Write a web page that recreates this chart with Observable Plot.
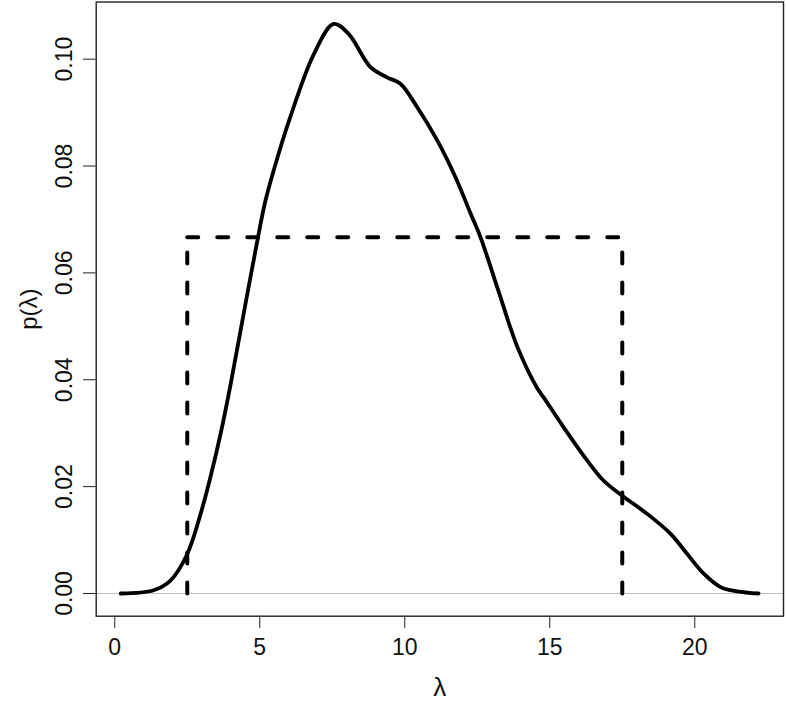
<!DOCTYPE html>
<html>
<head>
<meta charset="utf-8">
<script src="https://cdn.jsdelivr.net/npm/d3@7"></script>
<script src="https://cdn.jsdelivr.net/npm/@observablehq/plot@0.6"></script>
<style>
  html, body { margin: 0; padding: 0; background: #fff; }
  svg { display: block; }
</style>
</head>
<body>
<div id="chart"></div>
<script>
// density curve p(lambda)
const lambda = [0.2, 1.34, 1.92, 2.5, 2.96, 3.3, 3.65, 3.99, 4.45, 4.94, 5.2, 5.66, 6.06, 6.87, 7.55, 8.07, 8.82, 9.39, 9.85, 10.43, 11.12, 11.75, 12.27, 12.61, 13.19, 13.88, 14.57, 14.79, 15.48, 16.29, 16.86, 17.5, 18.36, 19.16, 19.74, 20.31, 20.89, 21.46, 22.2];
const density = [0, 0.0006, 0.0024, 0.0074, 0.0149, 0.0218, 0.0299, 0.0390, 0.0525, 0.0667, 0.0736, 0.0825, 0.0893, 0.1010, 0.1066, 0.1047, 0.0985, 0.0966, 0.0954, 0.0910, 0.0848, 0.0779, 0.0711, 0.0667, 0.0573, 0.0462, 0.0384, 0.0367, 0.0311, 0.0249, 0.0211, 0.0183, 0.0149, 0.0112, 0.0074, 0.0037, 0.0012, 0.0004, 0];

// uniform prior on [2.5, 17.5]
const uniformLower = 2.5;
const uniformUpper = 17.5;
const uniformHeight = 1 / 15;

const xTicks = [0, 5, 10, 15, 20];
const yTicks = [0, 0.02, 0.04, 0.06, 0.08, 0.10];
const xTitle = "λ";
const yTitle = "p(λ)";

const curve = lambda.map((x, i) => ({x, y: density[i]}));
const uniformSegs = [
  {s: 0, x: uniformLower, y: 0}, {s: 0, x: uniformLower, y: uniformHeight},
  {s: 1, x: uniformLower, y: uniformHeight}, {s: 1, x: uniformUpper, y: uniformHeight},
  {s: 2, x: uniformUpper, y: 0}, {s: 2, x: uniformUpper, y: uniformHeight}
];

const font = "'Liberation Sans', Arial, Helvetica, sans-serif";

const chart = Plot.plot({
  width: 786,
  height: 705,
  marginLeft: 95.7,
  marginRight: 3,
  marginTop: 1.5,
  marginBottom: 89.3,
  style: {fontFamily: font, background: "#fff", color: "#111"},
  x: {domain: [-0.64, 23.06]},
  y: {domain: [-0.00425, 0.1107]},
  marks: [
    Plot.ruleY([0], {stroke: "#bdbdbd", strokeWidth: 1.2}),
    Plot.line(uniformSegs, {x: "x", y: "y", z: "s", stroke: "#000", strokeWidth: 4, strokeDasharray: "11,19", strokeLinecap: "round"}),
    Plot.line(curve, {x: "x", y: "y", stroke: "#000", strokeWidth: 3.8, curve: "catmull-rom"}),
    Plot.frame({stroke: "#222", strokeWidth: 1.4}),
    Plot.axisX(xTicks, {tickSize: 12.3, tickPadding: 10, fontSize: 23, label: null, tickFormat: d => String(d), stroke: "#222"}),
    Plot.axisY(yTicks, {tickSize: 12.7, tickFormat: () => "", label: null, stroke: "#222"}),
    Plot.text(yTicks, {y: d => d, text: d => d.toFixed(2), frameAnchor: "left", dx: -32, rotate: -90, textAnchor: "middle", lineAnchor: "middle", fontSize: 23, fill: "#111"}),
    Plot.text([yTitle], {text: d => d, frameAnchor: "left", dx: -67, rotate: -90, textAnchor: "middle", lineAnchor: "middle", fontSize: 24, fill: "#111"}),
    Plot.text([xTitle], {text: d => d, frameAnchor: "bottom", dy: 71, textAnchor: "middle", lineAnchor: "middle", fontSize: 26, fill: "#111"})
  ]
});
document.getElementById("chart").appendChild(chart);
</script>
</body>
</html>
